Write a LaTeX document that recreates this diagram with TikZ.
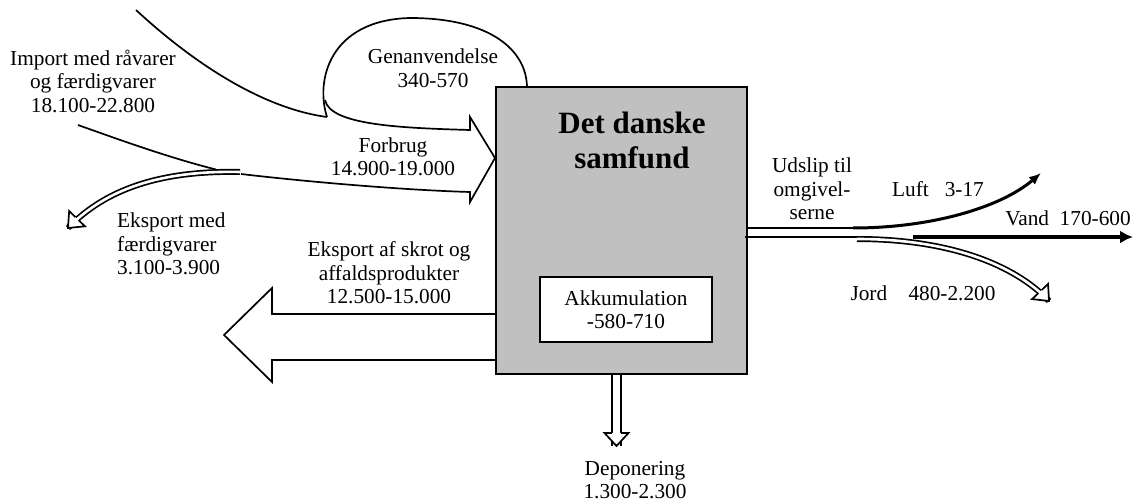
\documentclass[tikz,border=0pt]{standalone}
\usepackage{fontspec}
\setmainfont{Liberation Serif}
\usetikzlibrary{arrows.meta,decorations.markings}
\definecolor{boxgray}{HTML}{C0C0C0}

\begin{document}
\begin{tikzpicture}
    %Materialestroemme
    	[x=1pt,y=-1pt,
    	 flow/.style={line width=1.7pt,black},
    	 lbl/.style={font=\fontsize{21.3}{23.5}\selectfont,align=center,inner sep=0pt},
    	 samfund/.style={draw,line width=2.2pt,fill=boxgray,minimum width=251pt,minimum height=287pt},
    	 akku/.style={draw,line width=1.7pt,fill=white,minimum width=172pt,minimum height=65pt},
    	 hollowhead/.style n args={3}{postaction={decorate,decoration={markings,
    	   mark=at position 1 with {
    	     \fill[white] (-#1,-#2) -- (0pt,0pt) -- (-#1,#2) -- cycle;
    	     \draw[flow,line join=miter] (-#1,-#3) -- (-#1,-#2) -- (0pt,0pt) -- (-#1,#2) -- (-#1,#3);}}}}]
    \useasboundingbox (0,0) rectangle (1141,502);

    %import and the loop for genanvendelse
    \coordinate (imp1) at (136,10);
    \coordinate (imp2) at (327,117);
    \coordinate (imp3) at (78,125);
    \coordinate (imp4) at (216,169.5);
    \draw[flow] (imp1) .. controls (190,60) and (260,108) .. (imp2);
    \draw[flow] (imp3) .. controls (120,140) and (170,158) .. (imp4);
    \draw[flow] (imp2) .. controls (315,80) and (330,20) .. (410,18)
                       .. controls (490,18) and (527,50) .. (527,88);

    %forbrug arrow
    \coordinate (fb1) at (325,100);
    \coordinate (fb2) at (241,174);
    \draw[flow] (fb1) .. controls (330,125) and (400,128) .. (470,130) --
                (470,117) -- (495,158) -- (470,202) -- (470,192)
                .. controls (400,190) and (300,181) .. (fb2);

    %eksport med faerdigvarer
    \coordinate (em1) at (240,172);
    \coordinate (em2) at (68,228);
    \draw[flow,double,double distance=2.6pt,hollowhead={13pt}{11pt}{2.2pt}]
          (em1) .. controls (150,170) and (100,195) .. (em2);

    %eksport af skrot
    \draw[flow,fill=white] (496,314) -- (272,314) -- (272,288) -- (224,335) --
                           (272,382) -- (272,360) -- (496,360);

    %the society
    \node[samfund] (box) at (621.5,230.5) {};
    \node[lbl,font=\fontsize{31}{35}\selectfont\bfseries] (title) at (632,140) {Det danske\\samfund};
    \node[akku,lbl] (akk) at (626,309.5) {Akkumulation\\-580-710};

    %deponering
    \coordinate (dep1) at (616.5,375);
    \coordinate (dep2) at (616.5,446);
    \draw[flow,double,double distance=7.5pt,hollowhead={13pt}{12pt}{4.6pt}] (dep1) -- (dep2);

    %udslip til omgivelserne
    \coordinate (ud1) at (748,228);
    \coordinate (ud2) at (853,228);
    \coordinate (ud3) at (745,237);
    \coordinate (ud4) at (857,237);
    \draw[flow] (ud1) -- (ud2);
    \draw[flow] (ud3) -- (ud4);
    \draw[line width=3pt,-{Latex[length=12pt,width=10pt]}] (ud2) .. controls (930,228) and (1000,208) .. (1041,173);
    \draw[line width=3.2pt,-{Latex[length=13pt,width=13pt]}] (913,237) -- (1133,237);
    \draw[flow,double,double distance=2.6pt,hollowhead={13pt}{11pt}{2.2pt}]
          (857,239) .. controls (950,239) and (1015,265) .. (1049,301);

    %labels
    \node[lbl] (import) at (93,81) {Import med råvarer\\og færdigvarer\\18.100-22.800};
    \node[lbl] (genanv) at (433,68) {Genanvendelse\\340-570};
    \node[lbl] (forbrug) at (393,157) {Forbrug\\14.900-19.000};
    \node[lbl,align=left,anchor=west] (eksmed) at (117,244) {Eksport med\\færdigvarer\\3.100-3.900};
    \node[lbl] (eksskrot) at (389,273) {Eksport af skrot og\\affaldsprodukter\\12.500-15.000};
    \node[lbl] (depon) at (635,480) {Deponering\\1.300-2.300};
    \node[lbl] (udslip) at (812,189) {Udslip til\\omgivel-\\serne};
    \node[lbl] (luft) at (938,189) {Luft\ \ \ 3-17};
    \node[lbl] (vand) at (1068,218) {Vand\ \ 170-600};
    \node[lbl] (jord) at (923,293) {Jord\ \ \ \ 480-2.200};
\end{tikzpicture}
\end{document}
